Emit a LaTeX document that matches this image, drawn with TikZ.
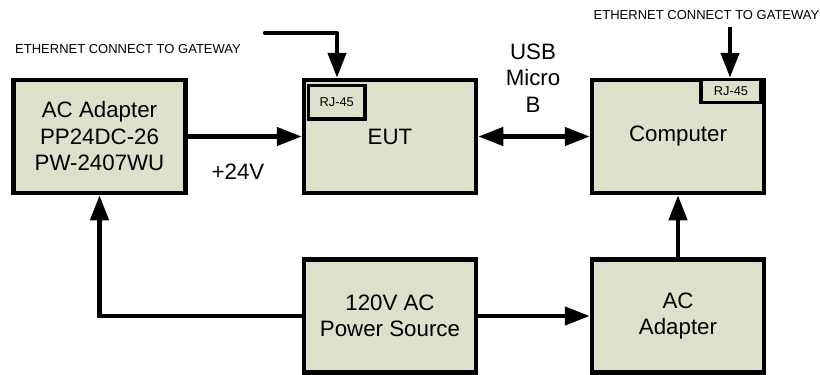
\documentclass[tikz,border=0pt]{standalone}
\usepackage{fontspec}
\setmainfont{Liberation Sans}
\usetikzlibrary{arrows.meta}
\definecolor{boxfill}{RGB}{221,224,203}
\begin{document}
\begin{tikzpicture}[x=1bp,y=-1bp,
 blk/.style={draw, line width=4.5bp, fill=boxfill, minimum width=172bp, minimum height=113bp, inner sep=0pt, align=center, font=\fontsize{22.3bp}{26.5bp}\selectfont},
 rj/.style={draw, line width=3.3bp, fill=boxfill, inner sep=0pt, font=\fontsize{12.8bp}{14bp}\selectfont},
 tip/.tip={Triangle[length=25bp,width=18bp]},
 conn/.style={line width=4.5bp, -tip},
 small/.style={font=\fontsize{13bp}{15bp}\selectfont, inner sep=0pt},
 big/.style={font=\fontsize{22.3bp}{26.5bp}\selectfont, inner sep=0pt, align=center}]
\useasboundingbox (0,0) rectangle (820,374);
\node[blk] (ada) at (99.5,136.5) {AC Adapter\\PP24DC-26\\PW-2407WU};
\node[blk] (eut) at (390,136.5) {EUT};
\node[blk] (comp) at (678,136.5) {Computer};
\node[blk] (pwr) at (390,316) {120V AC\\Power Source};
\node[blk] (ada2) at (678,316) {AC\\Adapter};
\node[rj, minimum width=56.7bp, minimum height=33.7bp] (rj1) at (336.7,102) {RJ-45};
\node[rj, minimum width=60bp, minimum height=23bp] (rj2) at (731,91) {RJ-45};
\draw[conn] (ada) -- (eut);
\draw[conn, tip-tip] (eut) -- (comp);
\draw[conn] (pwr) -- (ada2);
\draw[conn] (ada2) -- (comp);
\draw[conn] (pwr.west) -| (ada.south);
\coordinate (e1) at (265,33);
\draw[conn, line cap=round, line join=round] (e1) -| ([xshift=-53bp]eut.north);
\coordinate (e2) at (730,27);
\draw[conn] (e2) -- (e2 |- comp.north);
\node[small, anchor=west] (t1) at (15,49) {ETHERNET CONNECT TO GATEWAY};
\node[small] (t2) at (706.5,15) {ETHERNET CONNECT TO GATEWAY};
\node[big] (usb) at (533,78) {USB\\Micro\\B};
\node[big] (v24) at (238,172) {+24V};
\end{tikzpicture}
\end{document}
